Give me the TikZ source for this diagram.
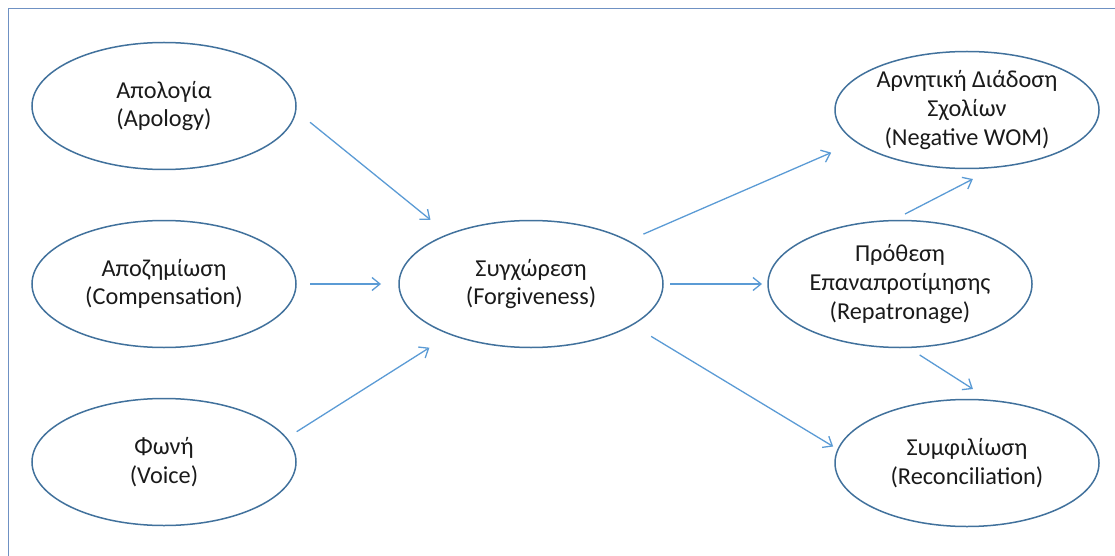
\documentclass[tikz,border=0pt]{standalone}
\usepackage{fontspec}
\setmainfont{Carlito}
\usetikzlibrary{shapes.geometric}
\usetikzlibrary{arrows.meta}
\definecolor{ovalline}{HTML}{41719C}
\definecolor{arrowblue}{HTML}{5B9BD5}
\definecolor{frameblue}{RGB}{111,145,195}
\definecolor{textgray}{HTML}{1A1A1A}
\tikzset{
  concept/.style={ellipse,draw=ovalline,line width=1.5pt,minimum width=264pt,minimum height=127pt,
    inner sep=0pt,outer sep=0pt,align=center,text=textgray},
  link/.style={draw=arrowblue,line width=1.3pt,-{Straight Barb[length=8pt,width=13pt]}},
  framebox/.style={draw=frameblue,line width=1.8pt}
}

\begin{document}
\begin{tikzpicture}[x=1pt,y=-1pt,font=\fontsize{24.3}{28.7}\selectfont]
  \useasboundingbox (0,0) rectangle (1115,556);
  \draw[framebox] (8.5,556) -- (8.5,8.5) -- (1115,8.5);
  % causes
  \foreach \name/\ypos/\txt in {apology/106/{Απολογία\\(Apology)}, comp/284/{Αποζημίωση\\(Compensation)}, voice/462/{Φωνή\\(Voice)}} {
    \node[concept] (\name) at (164,\ypos) {\txt};
  }
  \node[concept] (forg) at (531,284) {Συγχώρεση\\(Forgiveness)};
  % outcomes
  \node[concept,minimum height=117pt] (negwom) at (967,110) {Αρνητική Διάδοση\\Σχολίων\\(Negative WOM)};
  \node[concept] (rep) at (900,284) {Πρόθεση\\Επαναπροτίμησης\\(Repatronage)};
  \node[concept] (recon) at (967,463) {Συμφιλίωση\\(Reconciliation)};
  % arrows
  \foreach \src/\dst/\outa/\ina/\sa/\sb in {apology/forg/-2/149/18.6/23.2, comp/forg/0/180/14/18,
      voice/forg/11/212/12.2/25, forg/negwom/24/196/16.9/27.2, forg/rep/0/180/7/6,
      forg/recon/-22/174/22.3/5.7, rep/negwom/97/-63/14.4/26.1, rep/recon/-83/69/14.1/21.4} {
    \draw[link,shorten <=\sa pt,shorten >=\sb pt] (\src.\outa) -- (\dst.\ina);
  }
\end{tikzpicture}
\end{document}
